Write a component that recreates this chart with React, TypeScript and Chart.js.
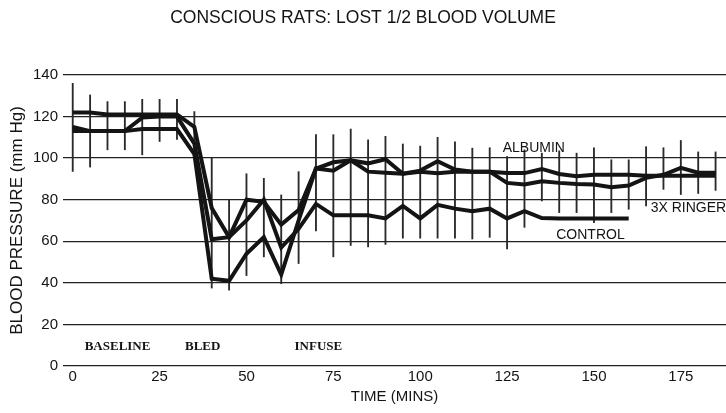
import React, { useEffect, useRef } from "react";
import { Chart, registerables } from "chart.js";

Chart.register(...registerables);

// Time points (minutes)
const times = [
  0, 5, 10, 15, 20, 25, 30, 35, 40, 45, 50, 55, 60, 65, 70, 75, 80, 85, 90,
  95, 100, 105, 110, 115, 120, 125, 130, 135, 140, 145, 150, 155, 160, 165,
  170, 175, 180, 185,
];

// Mean blood pressure (mm Hg)
const albumin = [
  122, 122, 121, 121, 121, 121, 121, 115, 76, 62, 80, 79, 68, 75, 95, 98, 99,
  97.5, 99.5, 92.5, 94, 98.5, 94.5, 93.5, 93.5, 92.8, 92.8, 94.8, 92.4, 91.3,
  92, 92, 92, 91.5, 91.5, 91.5, 91.5, 91.5,
];
const ringer = [
  113, 113, 113, 113, 114, 114, 114, 102, 42, 41, 54, 62, 44, 70, 95, 94, 99,
  93.5, 93, 92.5, 93.4, 92.7, 93.5, 93.5, 93.5, 88.1, 87.3, 88.9, 88.1, 87.6,
  87.3, 86, 86.8, 90.5, 92, 95.3, 93, 93,
];
const control = [
  115, 113, 113, 113, 119.5, 120, 120, 107, 61, 62, 70, 80, 57, 66, 78, 72.5,
  72.5, 72.5, 71, 77, 71, 77.5, 75.7, 74.5, 75.7, 71, 74.5, 71.2, 71, 71, 71,
  71, 71, null, null, null, null, null,
];

// Error bar extents (mm Hg)
const errLow = [
  93.6, 95.7, 104, 104, 101.6, 108, 109, 100, 37.5, 36.5, 43.5, 52.5, 39.6,
  49.3, 65, 52.5, 58, 57.3, 58.5, 61.5, 61.5, 61.5, 61.5, 61.1, 61.9, 56.3,
  66.7, 79.4, 73.8, 73.8, 69, 73.8, 75.4, 77, 85, 82.5, 83, 84.5,
];
const errHigh = [
  136, 130.4, 127.2, 127.2, 128.3, 128.3, 128.3, 122.4, 100, 80, 92.5, 90.3,
  82.3, 93.5, 111.3, 111.3, 114, 108.8, 110.5, 106.8, 105.8, 110, 107.8, 104.8,
  105, 100.8, 104, 102.4, 103.5, 102.4, 105, 99.2, 99.2, 105.5, 105, 108.5,
  103, 103,
];

const xTicks = [0, 25, 50, 75, 100, 125, 150, 175];
const yTicks = [0, 20, 40, 60, 80, 100, 120, 140];

// In-plot labels (anchored in data units)
const seriesLabels = ["ALBUMIN", "3X RINGER", "CONTROL"];
const seriesLabelTimes = [132.7, 177.2, 149];
const seriesLabelValues = [105, 76, 63];
const phaseLabels = ["BASELINE", "BLED", "INFUSE"];
const phaseLabelTimes = [12.9, 37.4, 70.7];
const phaseLabelValue = 9.2;

const SANS = "'Liberation Sans', Arial, Helvetica, sans-serif";
const SERIF = "'Liberation Serif', 'Times New Roman', serif";
const INK = "#141414";

const labelPlugin = {
  id: "inplotLabels",
  afterDatasetsDraw(chart: any) {
    const { ctx, scales } = chart;
    const x = scales.x;
    const y = scales.y;
    ctx.save();
    ctx.fillStyle = INK;
    ctx.textAlign = "center";
    ctx.textBaseline = "middle";
    ctx.font = `14px ${SANS}`;
    seriesLabels.forEach((t, i) => {
      ctx.fillText(
        t,
        x.getPixelForValue(seriesLabelTimes[i]),
        y.getPixelForValue(seriesLabelValues[i])
      );
    });
    ctx.font = `bold 13px ${SERIF}`;
    phaseLabels.forEach((t, i) => {
      ctx.fillText(
        t,
        x.getPixelForValue(phaseLabelTimes[i]),
        y.getPixelForValue(phaseLabelValue)
      );
    });
    ctx.restore();
  },
};

function lineSet(label: string, values: (number | null)[]) {
  return {
    type: "line" as const,
    label,
    data: times.map((t, i) => ({ x: t, y: values[i] })),
    borderColor: INK,
    backgroundColor: INK,
    borderWidth: 4,
    pointRadius: 0,
    tension: 0,
    fill: false,
    spanGaps: false,
    order: 1,
  };
}

export default function App() {
  const canvasRef = useRef<HTMLCanvasElement | null>(null);

  useEffect(() => {
    if (!canvasRef.current) return;
    const chart = new Chart(canvasRef.current, {
      type: "line",
      data: {
        datasets: [
          lineSet("ALBUMIN", albumin),
          lineSet("3X RINGER", ringer),
          lineSet("CONTROL", control),
          {
            type: "bar",
            label: "SEM",
            data: times.map((t, i) => ({ x: t, y: [errLow[i], errHigh[i]] })),
            backgroundColor: "#2a2a2a",
            borderWidth: 0,
            barThickness: 1.2,
            order: 5,
          } as any,
        ],
      },
      options: {
        responsive: false,
        animation: false,
        layout: { padding: 0 },
        plugins: {
          legend: { display: false },
          tooltip: { enabled: false },
          title: {
            display: true,
            text: "CONSCIOUS RATS: LOST 1/2 BLOOD VOLUME",
            color: INK,
            font: { family: SANS, size: 17.5, weight: "normal" },
            padding: { top: 7.5, bottom: 46.5 },
          },
        },
        scales: {
          x: {
            type: "linear",
            min: -2.8,
            max: 188,
            offset: false,
            grid: { display: false, drawTicks: false },
            border: { display: false },
            ticks: {
              color: INK,
              font: { family: SANS, size: 15 },
              padding: 2,
              maxRotation: 0,
            },
            afterBuildTicks: (s: any) => {
              s.ticks = xTicks.map((v) => ({ value: v }));
            },
            afterFit: (s: any) => {
              s.height = 47;
            },
            title: {
              display: true,
              text: "TIME (MINS)",
              color: INK,
              font: { family: SANS, size: 15 },
              padding: { top: 0, bottom: 7 },
            },
          },
          y: {
            type: "linear",
            min: 0,
            max: 140,
            grid: { color: "#222", lineWidth: 1.3, drawTicks: false },
            border: { display: false },
            ticks: {
              color: INK,
              font: { family: SANS, size: 15 },
              padding: 5,
            },
            afterBuildTicks: (s: any) => {
              s.ticks = yTicks.map((v) => ({ value: v }));
            },
            afterFit: (s: any) => {
              s.width = 63;
            },
            title: {
              display: true,
              text: "BLOOD PRESSURE (mm Hg)",
              color: INK,
              font: { family: SANS, size: 17 },
              padding: { top: 7, bottom: 0 },
            },
          },
        },
      },
      plugins: [labelPlugin],
    });
    return () => chart.destroy();
  }, []);

  return (
    <div
      style={{
        position: "fixed",
        left: 0,
        top: 0,
        width: 726,
        height: 413,
        background: "#fff",
      }}
    >
      <canvas ref={canvasRef} width={726} height={413} />
    </div>
  );
}
